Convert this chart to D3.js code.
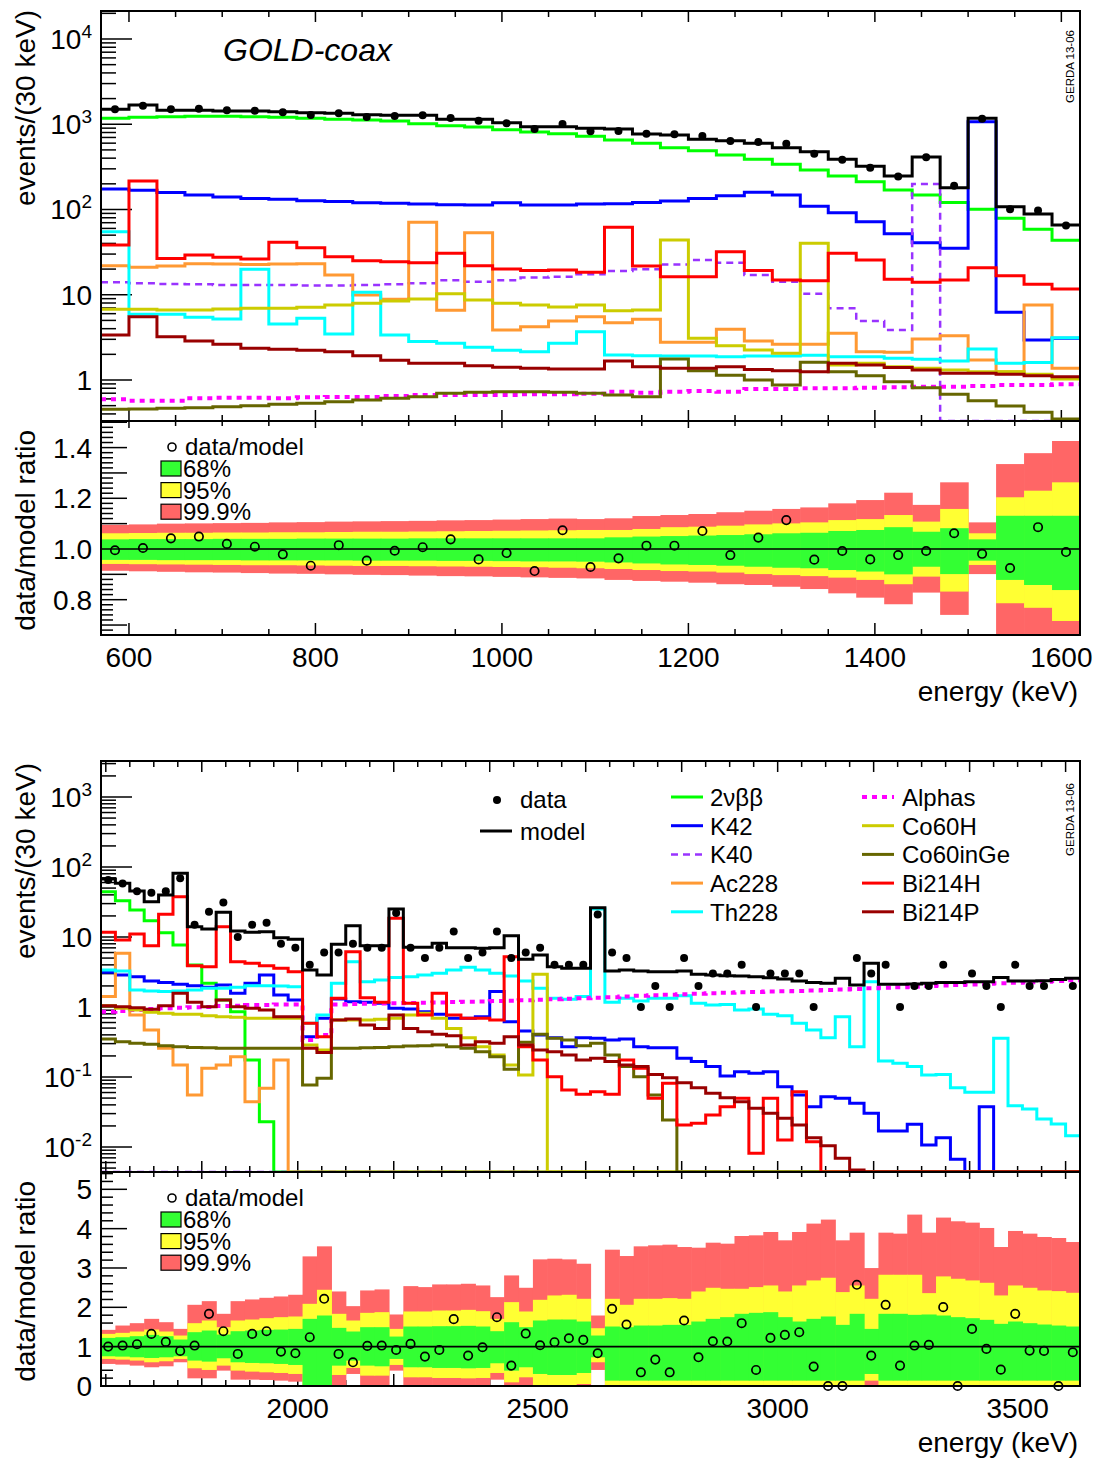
<!DOCTYPE html>
<html><head><meta charset="utf-8">
<script src="https://cdnjs.cloudflare.com/ajax/libs/d3/7.8.5/d3.min.js"></script>
<style>html,body{margin:0;padding:0;background:#fff;}svg text{font-family:"Liberation Sans",Arial,Helvetica,sans-serif;fill:#000;}</style>
</head><body>
<svg id="chart" width="1099" height="1459" xmlns="http://www.w3.org/2000/svg"></svg>
<script>
// ================= DATA =================
const componentNames = ["2νββ","K42","K40","Ac228","Th228","Alphas","Co60H","Co60inGe","Bi214H","Bi214P"];
const topRange = [570, 1620];
const botRange = [1590, 3630];
const binWidth = 30;

// ---- upper plot (570-1620 keV) ----
const topData  = [1497,1651,1497,1523,1458,1442,1381,1284,1344,1217,1250,1273,1184,1101,1026,880,1007,825,833,774,762,728,636,619,592,452,384,309,243,410,190,1161,101,97,65];
const topModel = [1497,1683,1458,1458,1430,1430,1403,1366,1344,1294,1273,1273,1143,1143,1043,936,936,896,880,769,748,666,641,598,531,477,388,321,247,413,180,1175,108,88.5,65.8];
const top2nbb  = [1173,1205,1227,1238,1238,1227,1205,1173,1142,1122,1092,1016,962,928,864,811,776,722,654,597,531,490,436,388,339,291,247,212,169,148,121,101,78.8,58.5,43.5];
const topK42   = [174,168,158,148,140,135,132,127,124,120,118,116,114,113,120,113,113,116,117,121,126,135,145,159,148,109,91.8,72,52,40.8,35,1072,6.22,2.94,3.08];
const topK40   = [14.0,13.6,13.4,13.3,13.0,13.0,13.0,12.8,12.8,13.0,13.3,13.6,14.8,14.2,14.8,15.9,16.3,17.4,19.0,19.9,22.7,25.6,23.8,17.0,14.2,10.3,6.93,4.92,3.86,199,0,0,0,0,0];
const topAc228 = [21.9,21.0,21.7,23.1,22.9,22.7,22.9,23.1,17.0,9.93,8.84,70.7,6.57,53.5,3.86,4.22,4.92,5.53,4.70,5.15,2.77,2.77,3.93,2.87,2.62,2.62,3.53,2.15,2.11,3.03,3.31,1.72,1.25,7.58,1.37];
const topTh228 = [55.0,5.89,5.89,5.43,5.19,19.9,4.54,5.29,3.46,10.7,3.37,2.82,2.69,2.42,2.23,2.15,2.69,3.69,1.96,1.93,1.91,1.91,1.88,1.91,1.91,1.95,1.88,1.88,1.80,1.75,1.67,2.31,1.57,1.60,3.14];
const topAlphas= [0.593,0.572,0.572,0.610,0.621,0.621,0.610,0.626,0.632,0.632,0.649,0.667,0.667,0.667,0.667,0.679,0.679,0.69,0.730,0.710,0.730,0.743,0.730,0.784,0.784,0.798,0.798,0.813,0.820,0.835,0.835,0.850,0.874,0.874,0.890];
const topCo60H = [6.74,6.74,6.62,6.62,6.80,6.93,6.93,7.12,7.58,7.93,8.45,8.92,10.3,8.68,7.93,7.58,7.18,7.58,6.51,6.62,43.9,3.08,2.53,2.25,2.06,40.1,1.50,1.57,1.43,1.37,1.31,1.25,1.25,1.17,1.03];
const topCo60inGe = [0.453,0.457,0.465,0.474,0.487,0.500,0.518,0.532,0.557,0.583,0.610,0.637,0.698,0.717,0.730,0.730,0.717,0.698,0.667,0.637,1.76,1.28,1.14,1.00,0.874,1.61,1.25,1.12,0.956,0.813,0.679,0.572,0.495,0.418,0.349];
const topBi214H = [38.3,216,26.7,29.3,27.5,26.3,41.2,35.7,28.0,25.1,24.4,23.8,30.6,21.9,20.0,19.2,19.5,18.3,61.8,21.7,16.3,16.3,32.0,19.2,14.9,14.6,30.6,25.6,15.2,14.0,14.9,20.8,16.7,13.3,11.7];
const topBi214P = [3.37,5.53,3.22,2.87,2.62,2.35,2.29,2.23,2.15,1.93,1.70,1.57,1.57,1.47,1.41,1.37,1.35,1.35,1.67,1.43,1.37,1.37,1.43,1.33,1.28,1.25,1.57,1.50,1.40,1.31,1.20,1.20,1.17,1.12,1.09];

const topRatio = [0.995,1.004,1.042,1.049,1.020,1.009,0.979,0.934,1.015,0.954,0.993,1.007,1.038,0.959,0.984,0.913,1.074,0.929,0.963,1.013,1.013,1.071,0.976,1.045,1.114,0.958,0.992,0.959,0.976,0.992,1.062,0.981,0.925,1.086,0.988];
const topBand999Hi = [1.095,1.097,1.100,1.101,1.102,1.103,1.105,1.106,1.108,1.109,1.110,1.111,1.113,1.114,1.116,1.118,1.120,1.118,1.121,1.130,1.134,1.138,1.145,1.151,1.158,1.164,1.180,1.193,1.222,1.174,1.263,1.105,1.335,1.378,1.426];
const topBand95Hi  = [1.062,1.063,1.064,1.064,1.065,1.065,1.066,1.066,1.067,1.068,1.068,1.069,1.070,1.071,1.072,1.073,1.074,1.075,1.075,1.079,1.086,1.088,1.092,1.097,1.101,1.105,1.114,1.118,1.134,1.108,1.158,1.062,1.204,1.230,1.263];
const topBand68Hi  = [1.038,1.039,1.039,1.039,1.040,1.040,1.040,1.041,1.041,1.041,1.041,1.042,1.042,1.042,1.042,1.042,1.042,1.042,1.046,1.049,1.051,1.053,1.055,1.058,1.062,1.064,1.071,1.075,1.086,1.068,1.082,1.038,1.131,1.131,1.131];
const topBand68Lo  = [0.957,0.957,0.956,0.956,0.956,0.955,0.955,0.955,0.955,0.954,0.954,0.954,0.953,0.953,0.952,0.951,0.951,0.950,0.947,0.943,0.939,0.937,0.934,0.930,0.926,0.924,0.917,0.911,0.900,0.930,0.901,0.954,0.878,0.858,0.838];
const topBand95Lo  = [0.941,0.940,0.939,0.938,0.937,0.936,0.936,0.935,0.934,0.933,0.933,0.932,0.931,0.930,0.929,0.928,0.926,0.924,0.921,0.917,0.913,0.911,0.907,0.901,0.897,0.893,0.887,0.878,0.861,0.891,0.832,0.937,0.786,0.768,0.716];
const topBand999Lo = [0.914,0.912,0.910,0.908,0.907,0.905,0.903,0.902,0.900,0.898,0.897,0.895,0.893,0.892,0.890,0.888,0.886,0.884,0.878,0.874,0.871,0.867,0.861,0.858,0.851,0.842,0.825,0.808,0.782,0.828,0.740,0.901,0.60,0.60,0.60];

// ---- lower plot (1590-3630 keV) ----
const botData  = [65,58,45,43,45,69,15,23,31,10,15,16,8,7,4,6,6,8,7,7,22,7,5,7,12,5,6,12,5,6,7,4,4,4,21,6,5,1,2,1,5,2,3,3,4,1,3,3,3,1,0,0,5,3,4,1,2,2,4,0,3,2,1,4,2,2,0,2];
const botModel = [67.4,58.4,45.4,32.0,39.8,81.2,14.0,13.0,22.5,12.2,11.7,11.9,9.78,9.26,3.38,2.87,7.86,14.5,7.52,7.52,25.1,7.12,7.12,8.12,7.04,7.04,6.89,7.04,10.4,4.80,5.53,3.77,3.57,3.57,26.2,3.27,3.38,3.27,3.20,3.20,3.27,2.93,2.87,2.80,2.77,2.71,2.62,2.51,2.35,2.23,2.18,2.57,2.06,4.21,2.11,2.11,2.13,2.18,2.23,2.23,2.30,2.30,2.65,2.35,2.35,2.38,2.48,2.57];
const bot2nbb  = [44.4,33.0,24.3,17.1,11.5,7.69,3.98,2.18,1.26,0.857,0.175,0.023,0,0,0,0,0,0,0,0,0,0,0,0,0,0,0,0,0,0,0,0,0,0,0,0,0,0,0,0,0,0,0,0,0,0,0,0,0,0,0,0,0,0,0,0,0,0,0,0,0,0,0,0,0,0,0,0];
const botK42   = [3.13,2.86,2.71,2.35,2.23,2.11,2.02,1.91,2.06,1.57,2.18,2.86,1.48,1.26,0.377,0.689,1.30,1.19,1.17,1.13,0.957,0.936,0.857,0.786,0.689,0.689,0.728,1.66,0.617,0.454,0.398,0.365,0.271,0.365,0.357,0.338,0.349,0.271,0.262,0.262,0.185,0.166,0.141,0.103,0.119,0.113,0.119,0.0728,0.0553,0.0377,0.0524,0.0496,0.0421,0.0303,0.0169,0.0169,0.0211,0.0107,0.0136,0.00667,0,0.0377,0,0,0,0,0,0];
const botK40   = [0,0,0,0,0,0,0,0,0,0,0,0,0,0,0,0,0,0,0,0,0,0,0,0,0,0,0,0,0,0,0,0,0,0,0,0,0,0,0,0,0,0,0,0,0,0,0,0,0,0,0,0,0,0,0,0,0,0,0,0,0,0,0,0,0,0,0,0];
const botAc228 = [1.41,5.84,0.769,0.469,0.257,0.148,0.0553,0.133,0.148,0.195,0.0444,0.0689,0.175,0,0,0,0,0,0,0,0,0,0,0,0,0,0,0,0,0,0,0,0,0,0,0,0,0,0,0,0,0,0,0,0,0,0,0,0,0,0,0,0,0,0,0,0,0,0,0,0,0,0,0,0,0,0,0];
const botTh228 = [3.38,3.27,1.75,1.69,1.66,1.69,1.75,1.85,1.85,1.91,2.02,2.02,2.0,1.95,0.585,0.769,2.18,4.44,2.30,2.43,2.63,2.71,2.86,3.03,3.38,3.69,3.38,3.03,2.77,2.35,1.85,1.33,1.29,1.41,25.1,1.17,1.33,1.22,1.33,1.33,1.45,1.13,1.07,1.09,0.906,0.936,0.786,0.752,0.585,0.469,0.365,0.728,0.271,2.30,0.169,0.157,0.141,0.107,0.109,0.0704,0.0604,0.0604,0.357,0.0389,0.0349,0.0251,0.0213,0.0145];
const botAlphas= [0.857,0.876,0.906,0.936,0.957,0.978,0.989,1.0,1.03,1.04,1.07,1.07,1.09,1.09,0.338,0.398,1.09,1.10,1.11,1.12,1.13,1.14,1.15,1.16,1.18,1.19,1.20,1.22,1.23,1.25,1.27,1.29,1.31,1.33,1.36,1.38,1.41,1.45,1.47,1.50,1.52,1.55,1.57,1.60,1.62,1.64,1.66,1.68,1.69,1.72,1.75,1.78,1.81,1.85,1.88,1.92,1.95,1.99,2.03,2.06,2.10,2.14,2.18,2.22,2.26,2.30,2.35,2.42];
const botCo60H = [1.04,0.957,0.906,0.839,0.812,0.786,0.786,0.752,0.728,0.711,0.689,0.689,0.689,0.689,0.286,0.243,0.652,0.652,0.652,0.667,0.689,0.769,0.812,0.689,0.495,0.365,0.271,0.206,0.148,0.107,2.93,0,0,0,0,0,0,0,0,0,0,0,0,0,0,0,0,0,0,0,0,0,0,0,0,0,0,0,0,0,0,0,0,0,0,0,0,0];
const botCo60inGe = [0.349,0.320,0.303,0.293,0.280,0.271,0.265,0.262,0.257,0.257,0.257,0.257,0.257,0.257,0.0769,0.0957,0.257,0.257,0.262,0.265,0.271,0.277,0.280,0.286,0.271,0.257,0.230,0.195,0.129,0.313,0.407,0.357,0.338,0.280,0.303,0.206,0.141,0.101,0.0553,0.0243,0,0,0,0,0,0,0,0,0,0,0,0,0,0,0,0,0,0,0,0,0,0,0,0,0,0,0,0];
const botBi214H = [11.7,9.06,11.0,7.52,21.1,37.7,3.89,3.77,14.0,4.44,4.21,3.89,3.57,3.20,0.585,0.377,1.33,6.17,1.36,1.17,18.5,1.13,0.769,1.57,0.769,0.689,0.689,0.652,5.24,0.271,0.175,0.101,0.0652,0.0565,0.0617,0.0565,0.175,0.133,0.0496,0.0812,0.0206,0.0218,0.0287,0.0377,0.0496,0.00812,0.0496,0.0126,0.0617,0.0119,0,0,0,0,0,0,0,0,0,0,0,0,0,0,0,0,0,0];
const botBi214P = [1.04,1.01,0.978,0.926,1.04,1.57,1.17,1.01,1.26,1.01,0.957,0.906,0.728,0.728,0.257,0.223,0.652,0.674,0.553,0.495,0.769,0.495,0.444,0.407,0.389,0.286,0.320,0.303,0.377,0.286,0.243,0.230,0.206,0.175,0.185,0.166,0.148,0.141,0.109,0.0977,0.0830,0.0705,0.0585,0.0507,0.0444,0.0357,0.0303,0.0257,0.0206,0.0136,0.0104,0.00689,0.00469,0,0,0,0,0,0,0,0,0,0,0,0,0,0,0];

const botRatio = [1.002,1.028,1.062,1.325,1.121,0.892,1.028,1.834,1.393,0.815,1.325,1.393,0.875,0.832,1.240,2.217,0.815,0.603,1.019,1.028,0.917,1.070,0.747,0.917,1.699,0.773,0.985,1.749,0.518,1.333,1.036,1.113,1.214,1.172,0.832,1.962,1.563,0.348,0.671,0.348,1.665,0.730,1.138,1.130,1.597,0.408,1.223,1.299,1.367,0.493,0,0,2.573,0.773,2.064,0.518,1.028,1.045,2.004,0,1.452,0.943,0.416,1.834,0.900,0.892,0,0.858];
const botBand999Hi = [1.427,1.537,1.597,1.707,1.622,1.452,2.064,2.157,1.835,2.157,2.200,2.242,2.276,2.319,3.295,3.550,2.403,2.030,2.429,2.455,1.818,2.539,2.514,2.582,2.582,2.599,2.556,2.259,2.811,2.497,3.219,3.236,3.219,3.108,1.792,3.465,3.304,3.550,3.576,3.593,3.533,3.516,3.643,3.618,3.813,3.830,3.915,3.703,3.915,4.128,4.230,3.703,3.898,2.998,3.898,3.873,4.357,3.898,4.281,4.187,4.153,4.017,3.533,3.941,3.873,3.788,3.762,3.660];
const botBand95Hi  = [1.325,1.351,1.385,1.435,1.385,1.283,1.597,1.665,1.495,1.665,1.690,1.724,1.750,1.767,2.089,2.446,1.835,1.665,1.860,1.877,1.452,1.894,1.894,1.919,1.919,1.936,1.902,1.707,2.132,1.894,2.191,2.302,2.319,2.217,1.469,2.217,2.064,2.217,2.217,2.234,2.217,2.403,2.497,2.472,2.472,2.514,2.556,2.403,2.556,2.684,2.752,2.387,2.556,2.217,2.828,2.828,2.828,2.361,2.786,2.726,2.684,2.624,2.302,2.556,2.497,2.429,2.412,2.370];
const botBand68Hi  = [1.223,1.240,1.266,1.299,1.266,1.181,1.368,1.410,1.308,1.393,1.410,1.427,1.435,1.452,1.707,1.792,1.478,1.385,1.495,1.495,1.257,1.512,1.512,1.520,1.520,1.529,1.512,1.393,1.622,1.495,1.665,1.690,1.690,1.639,1.283,1.512,1.495,1.537,1.537,1.554,1.554,1.639,1.707,1.750,1.835,1.860,1.877,1.750,1.639,1.707,1.767,1.554,1.835,1.452,1.835,1.835,1.809,1.818,1.792,1.750,1.724,1.682,1.580,1.639,1.597,1.563,1.537,1.512];
const botBand68Lo  = [0.756,0.747,0.730,0.713,0.730,0.756,0.646,0.620,0.705,0.603,0.586,0.578,0.561,0.535,0,0,0.518,0.646,0.518,0.501,0.688,0.476,0.476,0.459,0.459,0.450,0.459,0.578,0.391,0.476,0.306,0.280,0.280,0.331,0.730,0.136,0.136,0.136,0.136,0.136,0.136,0.136,0.136,0.136,0.136,0.136,0.136,0.136,0.136,0.136,0.136,0.136,0.136,0.306,0.136,0.136,0.136,0.136,0.136,0.136,0.136,0.136,0.136,0.136,0.136,0.136,0.136,0.136];
const botBand95Lo  = [0.688,0.671,0.646,0.603,0.629,0.688,0.450,0.408,0.518,0.391,0.365,0.348,0.331,0.306,0,0,0.280,0.459,0.263,0.263,0.535,0.221,0.221,0.204,0.204,0.195,0.204,0.331,0.093,0.221,0,0,0,0.051,0.603,0,0,0,0,0,0,0,0,0,0,0,0,0,0,0,0,0,0,0.136,0,0,0,0,0,0,0,0,0,0,0,0,0,0];
const botBand999Lo = [0.561,0.544,0.518,0.476,0.501,0.603,0.195,0.195,0.391,0.161,0.161,0.153,0.136,0.110,0,0,0,0.306,0,0,0.391,0,0,0,0,0,0,0.161,0,0,0,0,0,0,0.408,0,0,0,0,0,0,0,0,0,0,0,0,0,0,0,0,0,0,0,0,0,0,0,0,0,0,0,0,0,0,0,0,0];

// tick labels
const topXLabels = [600, 800, 1000, 1200, 1400, 1600];
const botXLabels = [2000, 2500, 3000, 3500];
const topYLabels = [[1e4,"10","4"],[1e3,"10","3"],[1e2,"10","2"],[10,"10",""],[1,"1",""]];
const botYLabels = [[1e3,"10","3"],[1e2,"10","2"],[10,"10",""],[1,"1",""],[0.1,"10","-1"],[0.01,"10","-2"]];
const topRLabels = ["1.4","1.2","1.0","0.8"];
const botRLabels = ["5","4","3","2","1","0"];
const bandLegend = ["68%","95%","99.9%"];

// ================= DRAWING =================
const styles = {
  "2νββ":{c:"#00ff00",w:3}, "K42":{c:"#0000ff",w:3}, "K40":{c:"#9933ff",w:2.5,dash:"7,5"},
  "Ac228":{c:"#ff9933",w:3}, "Th228":{c:"#00ffff",w:3}, "Alphas":{c:"#ff00ff",w:4,dash:"5,5"},
  "Co60H":{c:"#cccc00",w:3}, "Co60inGe":{c:"#666600",w:3}, "Bi214H":{c:"#ff0000",w:3}, "Bi214P":{c:"#990000",w:3}
};
const bandColors = ["#33ff33","#ffff33","#ff6666"];
const L=101, R=1080;
const svg = d3.select("#chart");
svg.append("rect").attr("width",1099).attr("height",1459).attr("fill","#fff");
const defs = svg.append("defs");
function clip(id,y0,y1){defs.append("clipPath").attr("id",id).append("rect").attr("x",L).attr("y",y0).attr("width",R-L).attr("height",y1-y0);}
clip("cTM",11,421); clip("cTR",421,635); clip("cBM",761,1172); clip("cBR",1172,1386);

const xTop = d3.scaleLinear().domain(topRange).range([L,R]);
const xBot = d3.scaleLinear().domain(botRange).range([L,R]);
const yTop = d3.scaleLog().domain([0.3304,21300]).range([421,11]);
const yTopR = d3.scaleLinear().domain([0.6607,1.5049]).range([635,421]);
const yBot = d3.scaleLog().domain([0.004395,3268]).range([1172,761]);
const yBotR = d3.scaleLinear().domain([0,5.44]).range([1386,1172]);

function histPath(vals,start,x,y){
  const dmin=y.domain()[0];
  let p="";
  vals.forEach((v,i)=>{
    const x0=x(start+i*binWidth), x1=x(start+(i+1)*binWidth);
    const yv=y(Math.max(v,dmin));
    p += (i===0?`M${x0},${yv}`:`V${yv}`)+`H${x1}`;
  });
  return p;
}

function mainPanel(o){
  const g=svg.append("g").attr("clip-path",`url(#${o.clip})`);
  componentNames.forEach((n,k)=>{
    const st=styles[n];
    g.append("path").attr("d",histPath(o.series[k],o.start,o.x,o.y))
      .attr("fill","none").attr("stroke",st.c).attr("stroke-width",st.w)
      .attr("stroke-dasharray",st.dash||null).attr("stroke-linejoin","miter");
  });
  g.append("path").attr("d",histPath(o.model,o.start,o.x,o.y))
    .attr("fill","none").attr("stroke","#000").attr("stroke-width",3);
  svg.append("g").selectAll("circle").data(o.data.map((d,i)=>[d,i]).filter(a=>a[0]>0)).join("circle")
    .attr("cx",a=>o.x(o.start+(a[1]+0.5)*binWidth)).attr("cy",a=>o.y(a[0])).attr("r",4).attr("fill","#000");
}

function ratioPanel(o){
  const g=svg.append("g").attr("clip-path",`url(#${o.clip})`);
  const sets=[[o.b999lo,o.b999hi,bandColors[2]],[o.b95lo,o.b95hi,bandColors[1]],[o.b68lo,o.b68hi,bandColors[0]]];
  sets.forEach(([lo,hi,col])=>{
    g.append("g").selectAll("rect").data(lo).join("rect")
      .attr("x",(d,i)=>o.x(o.start+i*binWidth))
      .attr("width",(d,i)=>o.x(o.start+(i+1)*binWidth)-o.x(o.start+i*binWidth)+0.6)
      .attr("y",(d,i)=>o.y(hi[i])).attr("height",(d,i)=>Math.max(0,o.y(d)-o.y(hi[i])))
      .attr("fill",col);
  });
  g.append("line").attr("x1",L).attr("x2",R).attr("y1",o.y(1)).attr("y2",o.y(1)).attr("stroke","#000").attr("stroke-width",1.6);
  svg.append("g").selectAll("circle").data(o.ratio).join("circle")
    .attr("cx",(d,i)=>o.x(o.start+(i+0.5)*binWidth)).attr("cy",d=>o.y(d)).attr("r",4.2)
    .attr("fill","none").attr("stroke","#000").attr("stroke-width",1.7);
}

const ax = svg.append("g").attr("stroke","#000").attr("stroke-width",1.5);
function xTicks(x,lo,hi,y0,y1,lenTop,lenBot){
  for(let e=Math.ceil(lo/50)*50;e<=hi;e+=50){
    const big=(e%200===0), xx=x(e);
    ax.append("line").attr("x1",xx).attr("x2",xx).attr("y1",y0).attr("y2",y0+(big?lenTop[0]:lenTop[1]));
    ax.append("line").attr("x1",xx).attr("x2",xx).attr("y1",y1).attr("y2",y1-(big?lenBot[0]:lenBot[1]));
  }
}
function logYTicks(y){
  const [a,b]=y.domain();
  for(let d=Math.floor(Math.log10(a));d<=Math.ceil(Math.log10(b));d++){
    for(let m=1;m<=9;m++){
      const v=m*Math.pow(10,d);
      if(v<a||v>b) continue;
      const yy=y(v);
      ax.append("line").attr("x1",L).attr("x2",L+(m===1?31:15)).attr("y1",yy).attr("y2",yy);
    }
  }
}
function linYTicks(y,step,majorEvery){
  const [a,b]=y.domain();
  const n0=Math.ceil(a/step-1e-6), n1=Math.floor(b/step+1e-6);
  for(let n=n0;n<=n1;n++){
    const v=n*step, yy=y(v);
    const big=(n%majorEvery===0);
    ax.append("line").attr("x1",L).attr("x2",L+(big?26:12)).attr("y1",yy).attr("y2",yy);
  }
}
function frame(y0,y1){svg.append("rect").attr("x",L).attr("y",y0).attr("width",R-L).attr("height",y1-y0).attr("fill","none").attr("stroke","#000").attr("stroke-width",2);}

function text(x,y,s,size,anchor,extra){
  const t=svg.append("text").attr("x",x).attr("y",y).attr("font-size",size).attr("text-anchor",anchor||"start").text(s);
  if(extra) extra(t); return t;
}
function powLabel(x,y,base,exp){
  const t=svg.append("text").attr("x",x).attr("y",y).attr("font-size",28).attr("text-anchor","end");
  t.append("tspan").text(base);
  if(exp) t.append("tspan").attr("dy",-11).attr("font-size",19).text(exp);
}
function vTitle(x,yEnd,s,size){
  svg.append("text").attr("transform",`translate(${x},${yEnd}) rotate(-90)`).attr("text-anchor","end").attr("font-size",size).text(s);
}

// ---------- upper plot ----------
mainPanel({clip:"cTM",x:xTop,y:yTop,start:topRange[0],model:topModel,data:topData,
  series:[top2nbb,topK42,topK40,topAc228,topTh228,topAlphas,topCo60H,topCo60inGe,topBi214H,topBi214P]});
ratioPanel({clip:"cTR",x:xTop,y:yTopR,start:topRange[0],ratio:topRatio,
  b999lo:topBand999Lo,b999hi:topBand999Hi,b95lo:topBand95Lo,b95hi:topBand95Hi,b68lo:topBand68Lo,b68hi:topBand68Hi});

// ---------- lower plot ----------
mainPanel({clip:"cBM",x:xBot,y:yBot,start:botRange[0],model:botModel,data:botData,
  series:[bot2nbb,botK42,botK40,botAc228,botTh228,botAlphas,botCo60H,botCo60inGe,botBi214H,botBi214P]});
ratioPanel({clip:"cBR",x:xBot,y:yBotR,start:botRange[0],ratio:botRatio,
  b999lo:botBand999Lo,b999hi:botBand999Hi,b95lo:botBand95Lo,b95hi:botBand95Hi,b68lo:botBand68Lo,b68hi:botBand68Hi});

// frames & ticks
frame(11,421); frame(421,635); frame(761,1172); frame(1172,1386);
xTicks(xTop,topRange[0],topRange[1],11,421,[11,6],[11,6]);
xTicks(xTop,topRange[0],topRange[1],421,635,[7,5],[12,6]);
xTicks(xBot,botRange[0],botRange[1],761,1172,[11,6],[11,6]);
xTicks(xBot,botRange[0],botRange[1],1172,1386,[7,5],[12,6]);
logYTicks(yTop); logYTicks(yBot);
linYTicks(yTopR,0.02,5); linYTicks(yBotR,0.2,5);

// axis labels
topYLabels.forEach(([v,b,e])=>powLabel(92,yTop(v)+10,b,e));
botYLabels.forEach(([v,b,e])=>powLabel(92,yBot(v)+10,b,e));
topRLabels.forEach(s=>text(92,yTopR(+s)+10,s,28,"end"));
botRLabels.forEach(s=>text(92,yBotR(+s)+10,s,28,"end"));
topXLabels.forEach(v=>text(xTop(v),667,String(v),28,"middle"));
botXLabels.forEach(v=>text(xBot(v),1418,String(v),28,"middle"));
text(1078,701,"energy (keV)",28,"end");
text(1078,1452,"energy (keV)",28,"end");
vTitle(35,10,"events/(30 keV)",28);
vTitle(35,430,"data/model ratio",28);
vTitle(35,763,"events/(30 keV)",28);
vTitle(35,1181,"data/model ratio",28);

// annotations
text(223,61,"GOLD-coax",32,"start",t=>t.attr("font-style","italic"));
vTitle(1074,30,"GERDA 13-06",11.5);
vTitle(1074,783,"GERDA 13-06",11.5);

// ratio legends
[421,1172].forEach(top=>{
  svg.append("circle").attr("cx",172).attr("cy",top+26).attr("r",4).attr("fill","none").attr("stroke","#000").attr("stroke-width",1.6);
  text(185,top+34,"data/model",24,"start");
  bandLegend.forEach((s,k)=>{
    const yb=top+40+k*21.6;
    svg.append("rect").attr("x",161).attr("y",yb).attr("width",20).attr("height",15).attr("fill",bandColors[k]).attr("stroke","#000").attr("stroke-width",1.2);
    text(183,yb+16,s,24,"start");
  });
});

// main legend (lower plot)
svg.append("circle").attr("cx",497).attr("cy",800).attr("r",4).attr("fill","#000");
text(520,808,"data",24,"start");
svg.append("line").attr("x1",480).attr("x2",512).attr("y1",831).attr("y2",831).attr("stroke","#000").attr("stroke-width",3);
text(520,840,"model",24,"start");
componentNames.forEach((n,k)=>{
  const col=Math.floor(k/5), row=k%5;
  const lx=col===0?671:862, tx=col===0?710:902, ly=797+row*28.7;
  const st=styles[n];
  svg.append("line").attr("x1",lx).attr("x2",lx+32).attr("y1",ly).attr("y2",ly)
    .attr("stroke",st.c).attr("stroke-width",st.w).attr("stroke-dasharray",st.dash||null);
  text(tx,ly+9,n,24,"start");
});
</script>
</body></html>
